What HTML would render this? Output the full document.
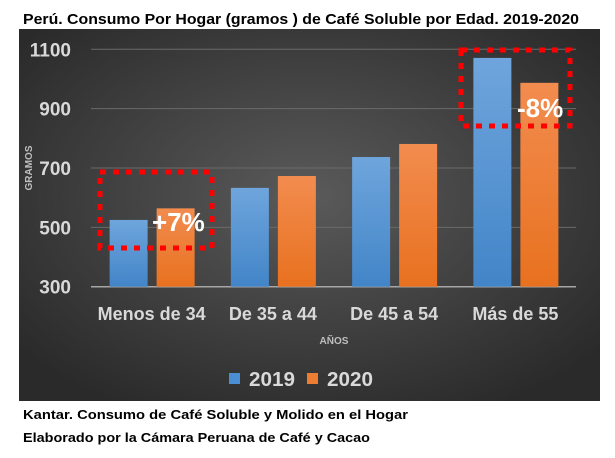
<!DOCTYPE html>
<html><head><meta charset="utf-8"><style>
html,body{margin:0;padding:0;background:#fff;}
svg{display:block;font-family:"Liberation Sans",sans-serif;}
</style></head><body>
<svg id="c" width="615" height="458" viewBox="0 0 615 458">
<defs>
<radialGradient id="bg" cx="50%" cy="45%" r="65%">
<stop offset="0" stop-color="#5a5a5a"/><stop offset="1" stop-color="#2a2a2a"/>
</radialGradient>
<linearGradient id="gb" x1="0" y1="0" x2="0" y2="1"><stop offset="0" stop-color="#6fa5dc"/><stop offset="1" stop-color="#4285c8"/></linearGradient>
<linearGradient id="go" x1="0" y1="0" x2="0" y2="1"><stop offset="0" stop-color="#f28c4f"/><stop offset="1" stop-color="#e8711f"/></linearGradient>
</defs>
<text x="23" y="24" font-size="15" font-weight="bold" fill="#000" textLength="556" lengthAdjust="spacingAndGlyphs">Perú. Consumo Por Hogar (gramos )  de Café Soluble por Edad. 2019-2020</text>
<rect x="19" y="29" width="581" height="372" fill="url(#bg)"/>
<g id="grid"></g>
<g id="bars"></g>
<g id="ann"></g>
<text transform="translate(32,168) rotate(-90)" text-anchor="middle" font-size="10" font-weight="bold" fill="#bfbfbf">GRAMOS</text>
<text x="334" y="344" text-anchor="middle" font-size="10" font-weight="bold" fill="#bfbfbf">AÑOS</text>
<rect x="229" y="373" width="11" height="11" fill="#4a8fd4"/>
<text x="249" y="386" font-size="20" font-weight="bold" fill="#d9d9d9" textLength="46" lengthAdjust="spacingAndGlyphs">2019</text>
<rect x="307" y="373" width="11" height="11" fill="#ed7d31"/>
<text x="327" y="386" font-size="20" font-weight="bold" fill="#d9d9d9" textLength="46" lengthAdjust="spacingAndGlyphs">2020</text>
<text x="23" y="419" font-size="13" font-weight="bold" fill="#000" textLength="385" lengthAdjust="spacingAndGlyphs">Kantar. Consumo de Café Soluble y Molido en el Hogar</text>
<text x="23" y="442" font-size="13" font-weight="bold" fill="#000" textLength="347" lengthAdjust="spacingAndGlyphs">Elaborado por la Cámara Peruana de Café y Cacao</text>
</svg>
<script>
const categories=["Menos de 34","De 35 a 44","De 45 a 54","Más de 55"];
const values2019=[525,633,737,1071];
const values2020=[564,673,781,987];
const yTicks=[300,500,700,900,1100];
const NS="http://www.w3.org/2000/svg";
const x0=91,x1=576,yMin=300,yMax=1100,yTop=49.3,yBot=286.7;
const y=v=>yBot-(v-yMin)/(yMax-yMin)*(yBot-yTop);
const bw=(x1-x0)/categories.length;
function mk(tag,attrs,parent){const e=document.createElementNS(NS,tag);for(const k in attrs)e.setAttribute(k,attrs[k]);parent.appendChild(e);return e;}
const grid=document.getElementById('grid'),bars=document.getElementById('bars');
yTicks.forEach(t=>{
  const l=mk('line',{x1:x0,x2:x1,y1:y(t),y2:y(t),stroke:t===yMin?'#a6a6a6':'#6a6a6a','stroke-width':t===yMin?1.5:1},grid);
  
  
  const tx=mk('text',{x:71,y:y(t)+7,'text-anchor':'end','font-size':19,'font-weight':'bold',fill:'#d9d9d9'},grid);
  tx.textContent=t;
  
  
});
categories.forEach((c,i)=>{
  const cx=x0+bw*(i+0.5);
  const b1=mk('rect',{x:cx-42,y:y(values2019[i]),width:38,height:yBot-y(values2019[i]),fill:'url(#gb)'},bars);
  
  
  const b2=mk('rect',{x:cx+5,y:y(values2020[i]),width:38,height:yBot-y(values2020[i]),fill:'url(#go)'},bars);
  
  
  const t=mk('text',{x:cx,y:320,'text-anchor':'middle','font-size':18,'font-weight':'bold',fill:'#d9d9d9'},bars);
  t.textContent=c;
  
  
});
const ann=document.getElementById('ann');
const r1=mk('rect',{x:100,y:172,width:112,height:76,fill:'none',stroke:'#ff0000','stroke-width':5,'stroke-dasharray':'6 7'},ann);


const r2=mk('rect',{x:461,y:50,width:109,height:76,fill:'none',stroke:'#ff0000','stroke-width':5,'stroke-dasharray':'6 7'},ann);


const a1=mk('text',{x:152,y:231,'font-size':26,'font-weight':'bold',fill:'#fff'},ann);
a1.textContent='+7%';


const a2=mk('text',{x:517,y:117,'font-size':26,'font-weight':'bold',fill:'#fff'},ann);
a2.textContent='-8%';


</script>
</body></html>
